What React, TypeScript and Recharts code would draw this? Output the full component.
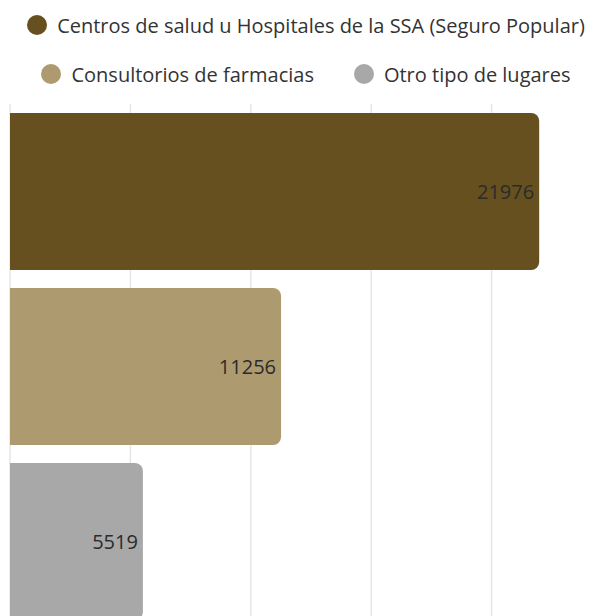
import React from "react";
import { BarChart, Bar, XAxis, YAxis, CartesianGrid, Cell, LabelList, Legend } from "recharts";

const categories = [
  "Centros de salud u Hospitales de la SSA (Seguro Popular)",
  "Consultorios de farmacias",
  "Otro tipo de lugares",
];
const values = [21976, 11256, 5519];
const colors = ["#66501f", "#ad9b6f", "#a8a8a8"];
const xTicks = [0, 5000, 10000, 15000, 20000, 25000];

const data = categories.map((name, i) => ({ name, value: values[i] }));

const FONT = "'Open Sans', sans-serif";

const renderLegend = () => (
  <div
    style={{
      height: 104,
      display: "flex",
      flexWrap: "wrap",
      justifyContent: "center",
      alignContent: "flex-start",
      columnGap: 40,
      rowGap: 25,
      paddingTop: 13,
      boxSizing: "border-box",
      fontFamily: FONT,
      fontSize: 20,
      color: "#333",
      marginLeft: -10,
    }}
  >
    {categories.map((c, i) => (
      <div key={c} style={{ display: "flex", alignItems: "center", height: 24, whiteSpace: "nowrap" }}>
        <span
          style={{
            display: "inline-block",
            width: 20,
            height: 20,
            borderRadius: "50%",
            background: colors[i],
            marginRight: 10,
          }}
        />
        <span>{c}</span>
      </div>
    ))}
  </div>
);

export default function App() {
  return (
    <div
      style={{
        position: "absolute",
        left: 0,
        top: 0,
        width: 611,
        height: 616,
        overflow: "hidden",
        background: "#fff",
      }}
    >
      <BarChart
        width={620}
        height={629}
        data={data}
        layout="vertical"
        margin={{ top: 0, right: 8, bottom: 0, left: 10 }}
      >
        <CartesianGrid horizontal={false} stroke="#e6e6e6" strokeWidth={1.5} />
        <XAxis type="number" domain={[0, 25000]} ticks={xTicks} hide />
        <YAxis type="category" dataKey="name" hide width={0} />
        <Legend verticalAlign="top" align="center" content={renderLegend} />
        <Bar dataKey="value" barSize={157} radius={[0, 8, 8, 0]} isAnimationActive={false}>
          {data.map((d, i) => (
            <Cell key={d.name} fill={colors[i]} />
          ))}
          <LabelList
            dataKey="value"
            position="insideRight"
            offset={5}
            fill="#2b2b2b"
            style={{ fontFamily: FONT, fontSize: 20 }}
          />
        </Bar>
      </BarChart>
    </div>
  );
}
